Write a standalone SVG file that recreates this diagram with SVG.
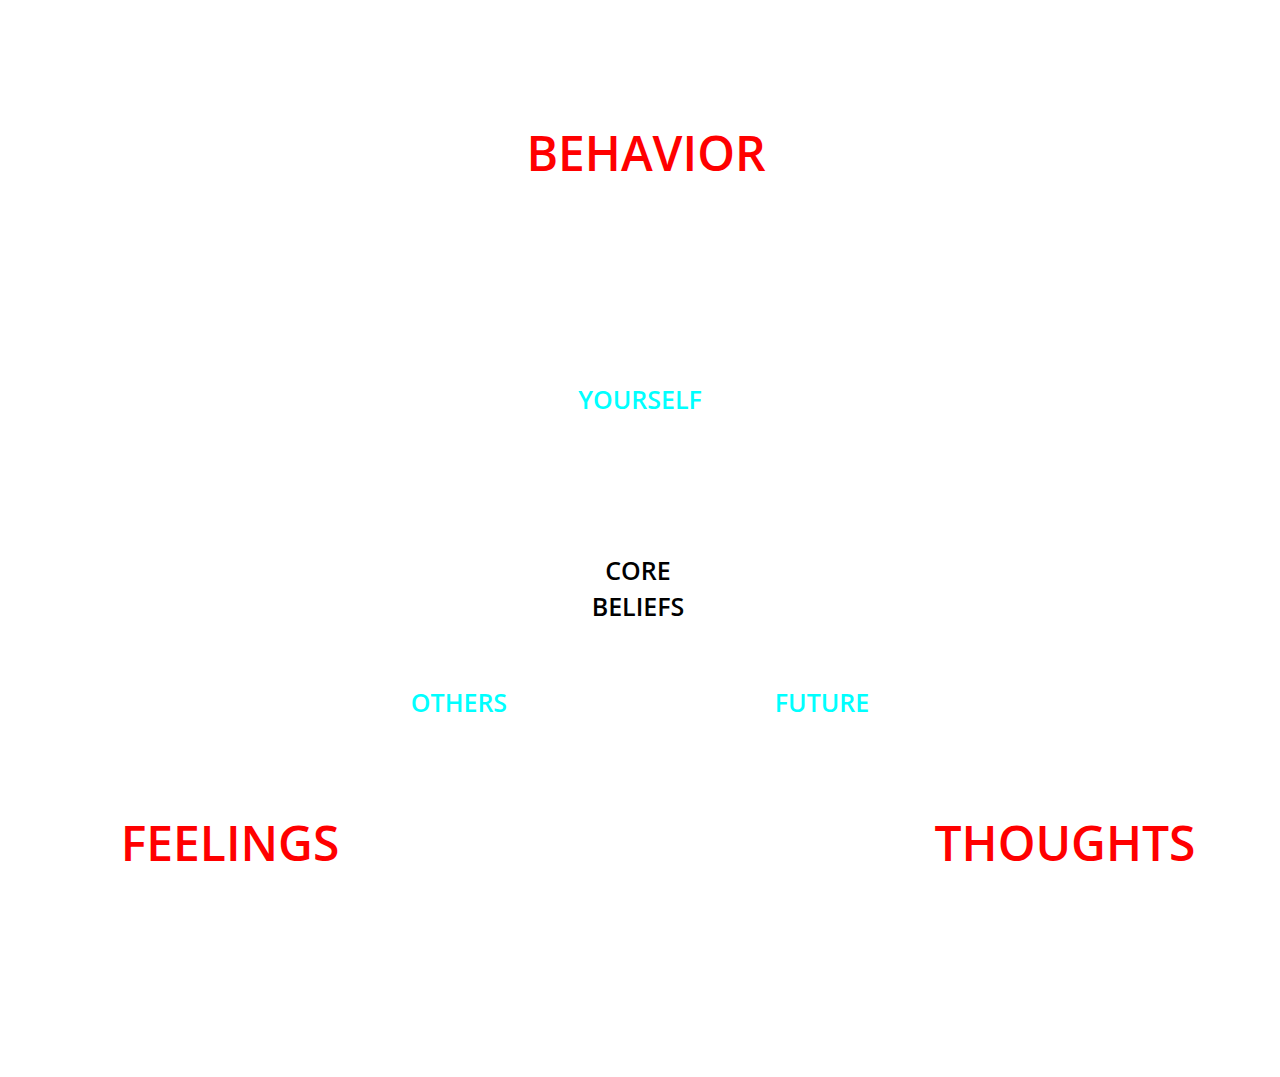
<svg xmlns="http://www.w3.org/2000/svg" width="1280" height="1077" viewBox="0 0 1280 1077">
<style>
text{font-family:"Open Sans","Noto Sans",sans-serif;font-weight:600;text-anchor:middle}
.big{font-size:48px;fill:#ff0000}
.mid{font-size:25px;fill:#00ffff}
.core{font-size:25px;fill:#000}
</style>
<rect width="1280" height="1077" fill="#fff"/>
<g id="behavior"><text class="big" x="646" y="171">BEHAVIOR</text></g>
<g id="feelings"><text class="big" x="230" y="861">FEELINGS</text></g>
<g id="thoughts"><text class="big" x="1065" y="861">THOUGHTS</text></g>
<g id="yourself"><text class="mid" x="640" y="409">YOURSELF</text></g>
<g id="others"><text class="mid" x="459" y="712">OTHERS</text></g>
<g id="future"><text class="mid" x="822" y="712">FUTURE</text></g>
<g id="core"><text class="core" x="638" y="580">CORE</text><text class="core" x="638" y="616">BELIEFS</text></g>
<g id="connectors"></g>
</svg>
